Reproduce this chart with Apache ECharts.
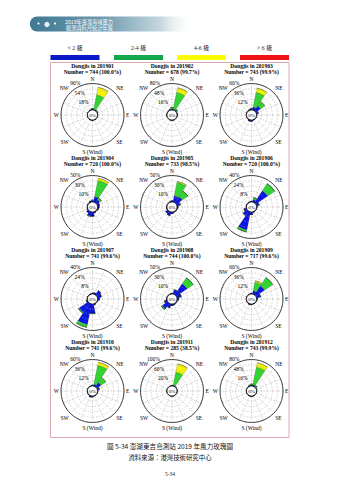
<!DOCTYPE html>
<html>
<head>
<meta charset="utf-8">
<script src="https://cdn.jsdelivr.net/npm/echarts@6/dist/echarts.min.js"></script>
<style>
  html, body { margin: 0; padding: 0; background: #fff; }
  #chart { width: 339px; height: 480px; }
</style>
</head>
<body>
<div id="chart"></div>
<script>
// Wind directions (sector order, clockwise from north)
const directions = ['N','NNE','NE','ENE','E','ESE','SE','SSE','S','SSW','SW','WSW','W','WNW','NW','NNW'];
const months = ['201901','201902','201903','201904','201905','201906','201907','201908','201909','201910','201911','201912'];
const counts = [744, 678, 743, 720, 733, 720, 741, 744, 717, 741, 285, 743];
const validPct = ['100.0','99.7','99.9','100.0','98.5','100.0','99.6','100.0','99.6','99.6','38.5','99.9'];
const ringMax = [90, 80, 60, 50, 50, 40, 40, 50, 60, 60, 100, 80];
const levelNames = ['< 2 級', '2-4 級', '4-6 級', '> 6 級'];

// Frequency (%) per direction, one row per month, for each Beaufort class
const speedLt2 = [
  [3,3,2,1,1,0.5,0.5,0.5,1,1,0.5,0.5,0.5,0.5,0.5,1],
  [4,3,3,1,1,0.5,0.5,1,1,1,0.5,0.5,0.5,0.5,1,2],
  [3,7,14,4,1,0.5,0.5,1,3,3,1,0.5,0.5,0.5,1,1.5],
  [3,11,7,4,3,2,1,2,8,8,4,1,0.5,0.5,1,2],
  [2,12,14,6,2,1,1,1,3,7,5,1,0.5,0.5,0.5,1],
  [1,4,22,4,1,0.5,0.5,1,4,28,8,4,0.5,0.5,0.5,0.5],
  [1,2,8,6,3,0.5,0.5,1.5,14,32,17,2,0.5,0.5,0.5,0.5],
  [1,8,25,8,3,1,1,2,3,7,13,5,1,0.5,0.5,0.5],
  [1,8,25,9,2,0.5,0.5,0.5,1,2,1,0.5,0.5,0.5,0.5,0.5],
  [1,4,12,4,1,0.5,0.5,0.5,2,3,1,0.5,0.5,0.5,0.5,0.5],
  [1,4,1,0.5,0.5,0.5,0.5,0.5,0.5,0.5,0.5,0.5,0.5,0.5,0.5,0.5],
  [3,4,3,1,1,0.5,0.5,1,1,1,0.5,0.5,0.5,0.5,1,2]
];
const speed2to4 = [
  [2,50,2,0,0,0,0,0,0,0,0,0,0,0,0,1],
  [4,52,3,0,0,0,0,0,0,0,0,0,0,0,0,1],
  [1,34,11,1,0,0,0,0,0,0,0,0,0,0,0,0],
  [1,31,4,0,0,0,0,0,0,1,0,0,0,0,0,0],
  [0.5,26,13,1,0,0,0,0,0,0,0,0,0,0,0,0],
  [0,3,13,0.5,0,0,0,0,0,3,0.5,0,0,0,0,0],
  [0,0,0,0,0,0,0,0,0.5,4,1.5,0,0,0,0,0],
  [0,0.5,14,0.5,0,0,0,0,0,0.5,2,0.5,0,0,0,0],
  [0.5,20,22,1,0,0,0,0,0,0,0,0,0,0,0,0],
  [1,44,13,1,0,0,0,0,0,0,0,0,0,0,0,0],
  [1,50,1,0,0,0,0,0,0,0,0,0,0,0,0,0],
  [3,55,3,0,0,0,0,0,0,0,0,0,0,0,0,1]
];
const speed4to6 = [
  [0,26,0,0,0,0,0,0,0,0,0,0,0,0,0,0],
  [0,14,0,0,0,0,0,0,0,0,0,0,0,0,0,0],
  [0,10,0.5,0,0,0,0,0,0,0,0,0,0,0,0,0],
  [0,4,0,0,0,0,0,0,0,0,0,0,0,0,0,0],
  [0,2,0,0,0,0,0,0,0,0,0,0,0,0,0,0],
  [0,0,0,0,0,0,0,0,0,0,0,0,0,0,0,0],
  [0,0,0,0,0,0,0,0,0,0.5,0,0,0,0,0,0],
  [0,0,0,0,0,0,0,0,0,0,0,0,0,0,0,0],
  [0,3,0.5,0,0,0,0,0,0,0,0,0,0,0,0,0],
  [0,7,0.5,0,0,0,0,0,0,0,0,0,0,0,0,0],
  [0,32,0.5,0,0,0,0,0,0,0,0,0,0,0,0,0],
  [0,13,0,0,0,0,0,0,0,0,0,0,0,0,0,0]
];
const speedGt6 = months.map(() => directions.map(() => 0));

const barColors = ['#0a14e6', '#2fd42f', '#f4f400', '#ff0000'];
const legendColors = ['#0b18c6', '#14a64c', '#ffff00', '#ef1414'];

const serif = '"Liberation Serif", "Times New Roman", serif';
const cjk = '"Noto Sans CJK TC", "Noto Sans CJK SC", sans-serif';

// Panel layout: 4 rows x 3 columns of roses
const colX = [92.5, 172, 251.5];
const rowY = [115, 207, 299, 391];
const R = 31.5, R0 = 5;

const dirLabel = { 0: 'N', 2: 'NE', 4: 'E', 6: 'SE', 8: 'S (Wind)', 10: 'SW', 12: 'W', 14: 'NW' };
const classes = [speedLt2, speed2to4, speed4to6, speedGt6];

const polar = [], angleAxis = [], radiusAxis = [], series = [], graphic = [];

months.forEach((m, i) => {
  const cx = colX[i % 3], cy = rowY[Math.floor(i / 3)];
  const gridIdx = 2 * i, barIdx = 2 * i + 1;
  polar.push({ center: [cx, cy], radius: [R0, R] });
  polar.push({ center: [cx, cy], radius: [R0, R] });

  // grid polar: rings, spokes and compass labels
  angleAxis.push({
    polarIndex: gridIdx, type: 'value', min: 0, max: 360, interval: 22.5,
    startAngle: 112.5, clockwise: true,
    axisLine: { lineStyle: { color: '#000', width: 0.8 } },
    axisTick: { show: false },
    splitLine: { show: true, lineStyle: { color: '#a0a0a0', width: 0.5, type: [1.5, 1.5] } },
    axisLabel: {
      margin: 2, fontSize: 5.5, fontFamily: serif, color: '#000',
      formatter: v => {
        const k = (Math.round(v / 22.5) - 1 + 16) % 16;
        return dirLabel[k] || '';
      }
    }
  });
  radiusAxis.push({
    polarIndex: gridIdx, type: 'value', min: 0, max: ringMax[i], interval: ringMax[i] / 5,
    axisLine: { show: false }, axisTick: { show: false },
    splitLine: { show: true, lineStyle: { color: '#a0a0a0', width: 0.5, type: [1.5, 1.5] } },
    axisLabel: {
      margin: 0, fontSize: 5.5, fontFamily: serif, color: '#000',
      align: 'right', verticalAlign: 'bottom',
      formatter: (v, idx) => (idx % 2 === 1 ? v + '%' : '')
    },
    z: 5
  });

  // bar polar: stacked frequency sectors
  angleAxis.push({
    polarIndex: barIdx, type: 'category', data: directions,
    startAngle: 90 + 11.25, clockwise: true,
    axisLine: { show: false }, axisTick: { show: false },
    axisLabel: { show: false }, splitLine: { show: false }
  });
  radiusAxis.push({
    polarIndex: barIdx, type: 'value', min: 0, max: ringMax[i],
    axisLine: { show: false }, axisTick: { show: false },
    axisLabel: { show: false }, splitLine: { show: false }
  });

  classes.forEach((arr, k) => {
    series.push({
      type: 'bar', coordinateSystem: 'polar', polarIndex: barIdx,
      stack: 'rose' + i, data: arr[i], barCategoryGap: '0%',
      itemStyle: { color: barColors[k], borderColor: 'rgba(0,0,0,0.5)', borderWidth: 0.3 },
      silent: true
    });
  });

  // calm circle
  graphic.push({
    type: 'circle', z: 50, shape: { cx, cy, r: R0 },
    style: { fill: '#fff', stroke: '#000', lineWidth: 0.7 }
  });
  graphic.push({
    type: 'text', z: 51, x: cx, y: cy,
    style: { text: '0%', font: '5px ' + serif, fill: '#000', align: 'center', verticalAlign: 'middle' }
  });
  // panel titles
  graphic.push({
    type: 'text', z: 51, x: cx, y: cy - 49.5,
    style: { text: 'Dongjis in ' + m, font: 'bold 5.6px ' + serif, fill: '#000', align: 'center', verticalAlign: 'middle' }
  });
  graphic.push({
    type: 'text', z: 51, x: cx, y: cy - 43,
    style: { text: 'Number = ' + counts[i] + ' (' + validPct[i] + '%)', font: 'bold 5.6px ' + serif, fill: '#000', align: 'center', verticalAlign: 'middle' }
  });
});

// figure frame
graphic.push({
  type: 'rect', z: 1, shape: { x: 50.5, y: 62.5, width: 238.5, height: 375 },
  style: { fill: 'none', stroke: '#d9a7ad', lineWidth: 1 }
});

// speed class legend
const legendX = [50.5, 114, 177, 240];
levelNames.forEach((name, k) => {
  graphic.push({
    type: 'rect', z: 1, shape: { x: legendX[k], y: 55, width: 49, height: 5 },
    style: { fill: legendColors[k] }
  });
  graphic.push({
    type: 'text', z: 1, x: legendX[k] + 24.5, y: 48,
    style: { text: name, font: '5.8px ' + serif + ', ' + cjk, fill: '#222', align: 'center', verticalAlign: 'middle' }
  });
});

// report banner
graphic.push({
  type: 'rect', z: 1, shape: { x: 30, y: 16.5, width: 165, height: 15, r: [7, 2, 2, 7] },
  style: {
    fill: {
      type: 'linear', x: 0, y: 0, x2: 1, y2: 0,
      colorStops: [
        { offset: 0, color: '#3f7893' },
        { offset: 0.45, color: '#6f9bb0' },
        { offset: 0.8, color: '#c9d9e0' },
        { offset: 1, color: 'rgba(255,255,255,0)' }
      ]
    }
  }
});
graphic.push({ type: 'circle', z: 2, shape: { cx: 38.5, cy: 23.5, r: 1.1 }, style: { fill: '#fff' } });
graphic.push({ type: 'circle', z: 2, shape: { cx: 47, cy: 24.5, r: 2.6 }, style: { fill: '#e8f0f4' } });
graphic.push({ type: 'circle', z: 2, shape: { cx: 55, cy: 23.5, r: 1.1 }, style: { fill: '#fff' } });
graphic.push({
  type: 'text', z: 2, x: 65, y: 21.3,
  style: { text: '2019年臺灣海域風力', font: '5.2px ' + cjk, fill: '#fff', align: 'left', verticalAlign: 'middle' }
});
graphic.push({
  type: 'text', z: 2, x: 66, y: 27.8,
  style: { text: '觀測資料月統計年報', font: '5.2px ' + cjk, fill: '#fff', align: 'left', verticalAlign: 'middle' }
});

// caption and page number
graphic.push({
  type: 'text', z: 2, x: 170, y: 445.5,
  style: { text: '圖 5-34 澎湖東吉島測站 2019 年風力玫瑰圖', font: '6.6px ' + cjk, fill: '#111', align: 'center', verticalAlign: 'middle' }
});
graphic.push({
  type: 'text', z: 2, x: 170, y: 457,
  style: { text: '資料來源：港灣技術研究中心', font: '6.4px ' + cjk, fill: '#111', align: 'center', verticalAlign: 'middle' }
});
graphic.push({
  type: 'text', z: 2, x: 170, y: 474,
  style: { text: '5-34', font: '5.5px ' + serif, fill: '#222', align: 'center', verticalAlign: 'middle' }
});

const chart = echarts.init(document.getElementById('chart'), null, { renderer: 'svg' });
chart.setOption({
  animation: false,
  backgroundColor: '#fff',
  polar, angleAxis, radiusAxis, series, graphic
});
</script>
</body>
</html>
